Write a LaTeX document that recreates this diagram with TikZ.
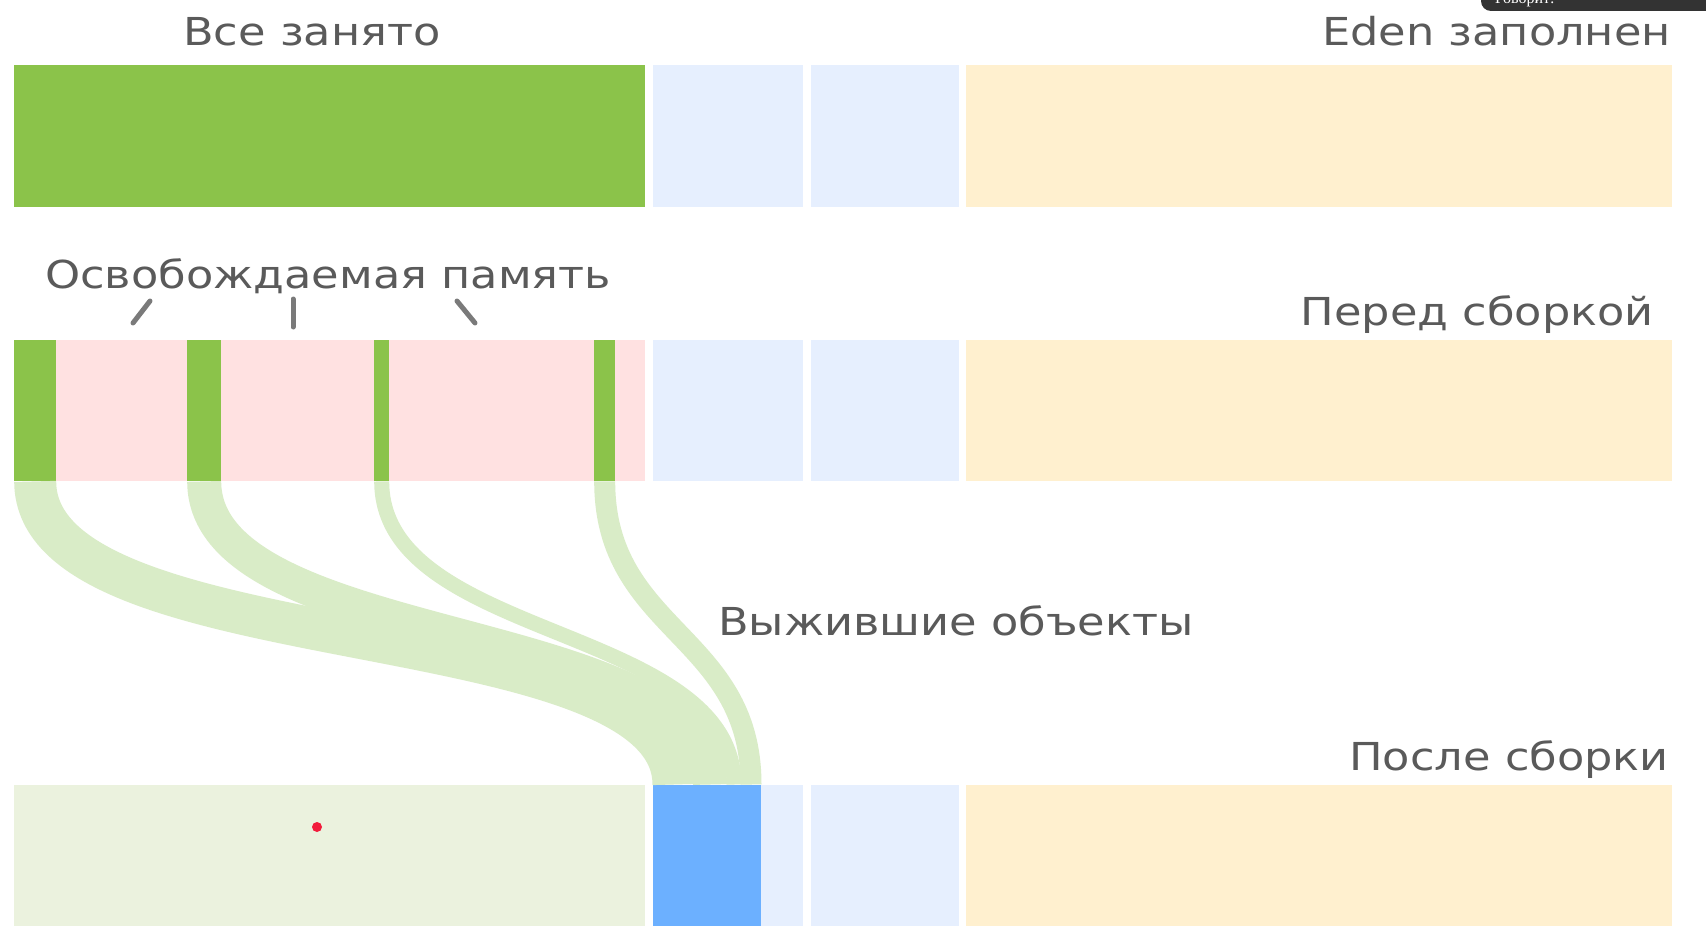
\documentclass[tikz,border=0pt]{standalone}
\usepackage{fontspec}
\setmainfont{DejaVu Sans}[FakeStretch=1.16]
\newfontfamily\tipfont{Liberation Serif}
\usetikzlibrary{calc}

\definecolor{livegreen}{HTML}{8BC34A}
\definecolor{flowgreen}{HTML}{D9ECC7}
\definecolor{palegreen}{HTML}{EBF2DE}
\definecolor{freedpink}{HTML}{FFE1E1}
\definecolor{survlight}{HTML}{E6EFFE}
\definecolor{survblue}{HTML}{6CB0FF}
\definecolor{oldorange}{HTML}{FFF0CF}
\definecolor{labelgray}{HTML}{5A5A5A}
\definecolor{tickgray}{HTML}{7A7A7A}
\definecolor{pointred}{HTML}{F21C3C}

\begin{document}
\begin{tikzpicture}[x=1pt,y=-1pt,
  bar/.style={anchor=north west,inner sep=0pt,minimum height=141.5pt},
  lbl/.style={text=labelgray,font=\fontsize{38.5}{44}\selectfont,inner sep=0pt},
  flow/.style={draw=flowgreen,line cap=butt},
  tick/.style={draw=tickgray,line width=5pt,line cap=round}]
\useasboundingbox[fill=white] (0,0) rectangle (1706,939);

% before: all taken
\node[bar,fill=livegreen,minimum width=631pt] (eden1) at (14,65) {};
\node[bar,fill=survlight,minimum width=150pt] (sa1) at (653,65) {};
\node[bar,fill=survlight,minimum width=148pt] (sb1) at (811,65) {};
\node[bar,fill=oldorange,minimum width=706pt] (old1) at (966,65) {};
\node[lbl,anchor=base west] (busy) at (183,46) {Все занято};
\node[lbl,anchor=base east] (full) at (1671,46) {Eden заполнен};

% before collection
\node[bar,fill=freedpink,minimum width=631pt] (eden2) at (14,339.5) {};
\node[bar,fill=livegreen,minimum width=42pt] (live1) at (14,339.5) {};
\node[bar,fill=livegreen,minimum width=34pt] (live2) at (187,339.5) {};
\node[bar,fill=livegreen,minimum width=15pt] (live3) at (374,339.5) {};
\node[bar,fill=livegreen,minimum width=21pt] (live4) at (594,339.5) {};
\node[bar,fill=survlight,minimum width=150pt] (sa2) at (653,339.5) {};
\node[bar,fill=survlight,minimum width=148pt] (sb2) at (811,339.5) {};
\node[bar,fill=oldorange,minimum width=706pt] (old2) at (966,339.5) {};
\node[lbl,anchor=base west] (freed) at (45,288) {Освобождаемая память};
\node[lbl,anchor=base east] (before) at (1654,325) {Перед сборкой};
\draw[tick] (133,323) -- (150,301);
\draw[tick] (293,299) -- (293,327);
\draw[tick] (457,301) -- (475,323);

% after collection
\node[bar,fill=palegreen,minimum width=631pt] (eden3) at (14,784.5) {};
\node[bar,fill=survlight,minimum width=150pt] (sa3) at (653,784.5) {};
\node[bar,fill=survblue,minimum width=108pt] (surv) at (653,784.5) {};
\node[bar,fill=survlight,minimum width=148pt] (sb3) at (811,784.5) {};
\node[bar,fill=oldorange,minimum width=706pt] (old3) at (966,784.5) {};
\node[lbl,anchor=base east] (after) at (1669,770) {После сборки};
\node[lbl,anchor=base west] (alive) at (718,635) {Выжившие объекты};

% survivors are copied
\draw[flow,line width=42pt] (live1.south) .. controls +(0,185) and +(0,-175) .. ($(surv.north west)+(20.5,0)$);
\draw[flow,line width=34pt] (live2.south) .. controls +(0,170) and +(0,-165) .. ($(surv.north west)+(57,0)$);
\draw[flow,line width=15pt] (live3.south) .. controls +(0,160) and +(0,-160) .. ($(surv.north west)+(81,0)$);
\draw[flow,line width=21pt] (live4.south) .. controls +(0,150) and +(0,-150) .. ($(surv.north west)+(98,0)$);

% screen overlays
\fill[pointred] (317,827) circle (5);
\fill[black!80,rounded corners=10pt] (1481,-12) rectangle (1720,11);
\node[text=white,anchor=base west,font=\tipfont\fontsize{16}{18}\selectfont,inner sep=0pt] (tip) at (1495,4) {Говорит:};
\end{tikzpicture}
\end{document}
